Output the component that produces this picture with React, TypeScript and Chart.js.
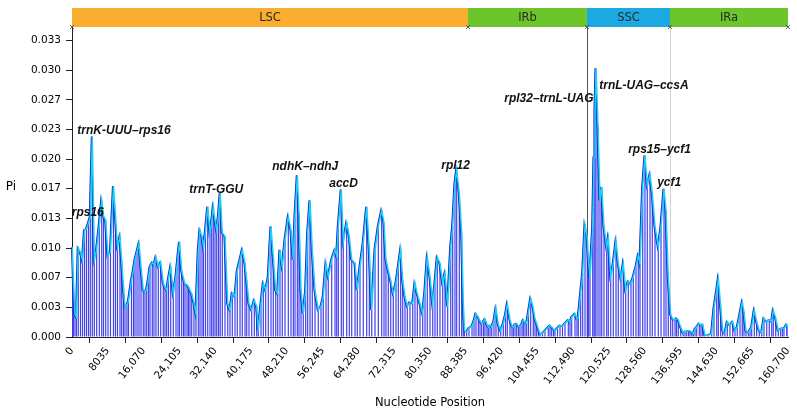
import { useEffect, useRef } from "react";
import { Chart, registerables } from "chart.js";

Chart.register(...registerables);

// Sliding-window nucleotide diversity: [window midpoint (bp), Pi]
type PiWindow = [number, number];

const lscWindows: PiWindow[] = [
  [70, 0.0100], [340, 0.0060], [670, 0.0025], [1010, 0.0022], [1410, 0.0099],
  [1910, 0.0094], [2360, 0.0085], [2810, 0.0119], [3250, 0.0120], [3700, 0.0127],
  [4110, 0.0134], [4560, 0.0223], [5010, 0.0085], [5540, 0.0098], [6130, 0.0125],
  [6670, 0.0152], [7070, 0.0135], [7560, 0.0130], [8080, 0.0090], [8640, 0.0095],
  [9310, 0.0168], [9760, 0.0135], [10210, 0.0100], [10770, 0.0112], [11150, 0.0085],
  [11560, 0.0055], [11900, 0.0033], [12340, 0.0036], [12680, 0.0040], [13350, 0.0063],
  [13800, 0.0075], [14140, 0.0086], [14590, 0.0095], [15040, 0.0104], [15490, 0.0078],
  [16000, 0.0052], [16380, 0.0050], [16770, 0.0054], [17170, 0.0065], [17510, 0.0078],
  [18020, 0.0083], [18400, 0.0080], [18850, 0.0089], [19370, 0.0078], [19910, 0.0083],
  [20490, 0.0060], [20870, 0.0055], [21250, 0.0052], [21660, 0.0065], [22150, 0.0078],
  [22740, 0.0048], [23340, 0.0067], [23790, 0.0090], [24130, 0.0106], [24620, 0.0074],
  [25030, 0.0065], [25360, 0.0059], [25810, 0.0058], [26150, 0.0056], [26480, 0.0052],
  [26870, 0.0048], [27380, 0.0038], [27830, 0.0026], [28350, 0.0097], [28730, 0.0119],
  [29180, 0.0112], [29510, 0.0100], [29960, 0.0118], [30460, 0.0145], [30970, 0.0116],
  [31350, 0.0128], [31710, 0.0145], [32100, 0.0130], [32480, 0.0119], [32880, 0.0135],
  [33260, 0.0160], [33730, 0.0116], [34340, 0.0112], [34950, 0.0037], [35460, 0.0030],
  [35980, 0.0049], [36580, 0.0045], [37100, 0.0074], [37710, 0.0086], [38220, 0.0097],
  [38830, 0.0082], [39210, 0.0063], [39730, 0.0037], [40330, 0.0030], [40920, 0.0041],
  [41450, 0.0034], [41810, 0.0007], [42420, 0.0037], [42940, 0.0060], [43470, 0.0052],
  [44060, 0.0067], [44660, 0.0123], [45180, 0.0089], [45720, 0.0052], [46170, 0.0048],
  [46680, 0.0097], [47200, 0.0078], [47810, 0.0108], [48550, 0.0134], [49150, 0.0119],
  [49670, 0.0086], [50050, 0.0134], [50570, 0.0180], [50950, 0.0138], [51400, 0.0052],
  [51910, 0.0026], [52450, 0.0052], [52900, 0.0116], [53420, 0.0152], [53930, 0.0097],
  [54540, 0.0052], [55280, 0.0030], [55890, 0.0034], [56400, 0.0045], [57010, 0.0082],
  [57520, 0.0067], [58290, 0.0086], [59030, 0.0097], [59410, 0.0090], [59770, 0.0123],
  [60440, 0.0164], [60890, 0.0105], [61650, 0.0127], [62240, 0.0112], [62780, 0.0086],
  [63520, 0.0082], [64030, 0.0052], [64640, 0.0078], [65380, 0.0105], [66140, 0.0145],
  [66730, 0.0097], [67270, 0.0030], [68010, 0.0097], [68750, 0.0123], [69510, 0.0141],
  [70030, 0.0127], [70470, 0.0086], [70990, 0.0074], [71530, 0.0063], [72110, 0.0048],
  [72720, 0.0060], [73240, 0.0078], [73770, 0.0097], [74220, 0.0063], [74740, 0.0045],
  [75260, 0.0034], [75860, 0.0039], [76470, 0.0037], [76980, 0.0060], [77500, 0.0048],
  [78110, 0.0037], [78710, 0.0026], [79230, 0.0052], [79740, 0.0089], [80350, 0.0067],
  [80960, 0.0037], [81470, 0.0060], [81990, 0.0089], [82590, 0.0082], [83200, 0.0060],
  [83720, 0.0071], [84320, 0.0034], [85000, 0.0100], [85440, 0.0123], [85960, 0.0171],
  [86340, 0.0186], [86930, 0.0160], [87460, 0.0116], [87820, 0.0040], [88090, 0.0007],
  [88590, 0.0006],
];

const irbWindows: PiWindow[] = [
  [89100, 0.0010], [89780, 0.0012], [90230, 0.0018], [90670, 0.0026], [91190, 0.0022],
  [91570, 0.0018], [91950, 0.0015], [92360, 0.0017], [92690, 0.0020], [93140, 0.0014],
  [93440, 0.0011], [93820, 0.0013], [94200, 0.0011], [94710, 0.0018], [95160, 0.0032],
  [95680, 0.0014], [96220, 0.0007], [96800, 0.0015], [97300, 0.0025], [97700, 0.0037],
  [98310, 0.0019], [98750, 0.0012], [99050, 0.0011], [99430, 0.0014], [99810, 0.0015],
  [100210, 0.0012], [100550, 0.0011], [101000, 0.0015], [101290, 0.0019], [101670, 0.0016],
  [102050, 0.0015], [102460, 0.0028], [102950, 0.0043], [103530, 0.0032], [103920, 0.0020],
  [104300, 0.0015], [104700, 0.0008], [105040, 0.0004], [105600, 0.0004], [106160, 0.0007],
  [106900, 0.0011], [107280, 0.0013], [107660, 0.0011], [108070, 0.0009], [108400, 0.0007],
  [108970, 0.0010], [109530, 0.0013], [110090, 0.0012], [110650, 0.0015], [111390, 0.0019],
  [111770, 0.0016], [112150, 0.0022], [112890, 0.0026], [113340, 0.0020], [113630, 0.0022],
  [114170, 0.0049], [114620, 0.0071], [115140, 0.0125],
];

const sscWindows: PiWindow[] = [
  [115650, 0.0110], [115920, 0.0085], [116260, 0.0067], [116870, 0.0123], [117160, 0.0200],
  [117380, 0.0253], [117610, 0.0299], [118060, 0.0235], [118500, 0.0152], [118890, 0.0167],
  [119400, 0.0123], [120010, 0.0100], [120370, 0.0111], [120910, 0.0067], [121490, 0.0082],
  [122100, 0.0107], [122610, 0.0082], [123220, 0.0065], [123730, 0.0082], [124270, 0.0052],
  [124860, 0.0062], [125460, 0.0059], [125980, 0.0067], [126580, 0.0078], [127100, 0.0091],
  [127480, 0.0082], [128090, 0.0167], [128600, 0.0202], [129120, 0.0168], [129730, 0.0181],
  [130240, 0.0160], [130850, 0.0123], [131590, 0.0100], [132200, 0.0123], [132870, 0.0165],
  [133320, 0.0141], [133830, 0.0067],
];

const iraWindows: PiWindow[] = [
  [134370, 0.0025], [134820, 0.0020], [135340, 0.0019], [135670, 0.0021], [136080, 0.0019],
  [136620, 0.0011], [137200, 0.0004], [137580, 0.0006], [137960, 0.0006], [138370, 0.0007],
  [138700, 0.0007], [139090, 0.0005], [139450, 0.0004], [139830, 0.0009], [140210, 0.0011],
  [140790, 0.0015], [141170, 0.0013], [141550, 0.0014], [142070, 0.0002], [142810, 0.0002],
  [143570, 0.0004], [144090, 0.0032], [144700, 0.0052], [145060, 0.0065], [145590, 0.0034],
  [146040, 0.0007], [146560, 0.0004], [147080, 0.0017], [147680, 0.0013], [148290, 0.0017],
  [148800, 0.0007], [149320, 0.0011], [149930, 0.0026], [150440, 0.0039], [150820, 0.0028],
  [151270, 0.0007], [151790, 0.0005], [152170, 0.0008], [152550, 0.0011], [153140, 0.0030],
  [153670, 0.0017], [154260, 0.0007], [154800, 0.0005], [155310, 0.0021], [155920, 0.0017],
  [156500, 0.0019], [157040, 0.0017], [157400, 0.0030], [157940, 0.0021], [158520, 0.0007],
  [159060, 0.0009], [159460, 0.0010], [159800, 0.0009], [160410, 0.0014], [160700, 0.0012],
];

// Quadripartite structure of the plastome
const regionNames = ["LSC", "IRb", "SSC", "IRa"];
const regionStarts = [0, 88880, 115590, 134220];
const regionEnds = [88880, 115590, 134220, 160700];
const regionColors = ["#FBAE2D", "#6CC62B", "#1BA9E3", "#6CC62B"];

const xTickValues = [
  0, 8035, 16070, 24105, 32140, 40175, 48210, 56245, 64280, 72315, 80350,
  88385, 96420, 104455, 112490, 120525, 128560, 136595, 144630, 152665, 160700,
];
const xTickLabels = [
  "0", "8035", "16,070", "24,105", "32,140", "40,175", "48,210", "56,245", "64,280",
  "72,315", "80,350", "88,385", "96,420", "104,455", "112,490", "120,525", "128,560",
  "136,595", "144,630", "152,665", "160,700",
];
const yTickValues = [0, 0.0033, 0.0066, 0.0099, 0.0132, 0.0165, 0.0198, 0.0231, 0.0264, 0.0297, 0.033];
const yTickLabels = ["0.000", "0.003", "0.007", "0.010", "0.013", "0.017", "0.020", "0.023", "0.027", "0.030", "0.033"];

// Highly variable loci, anchored at [start bp, Pi level]
const geneNames = [
  "rps16", "trnK-UUU–rps16", "trnT-GGU", "ndhK–ndhJ", "accD", "rpl12",
  "rpl32–trnL-UAG", "trnL-UAG–ccsA", "rps15–ycf1", "ycf1",
];
const geneStarts = [-60, 1190, 26320, 44950, 57740, 82880, 97010, 118330, 124830, 131340];
const geneLevels = [0.01383, 0.02294, 0.01636, 0.01896, 0.0171, 0.01909, 0.02647, 0.02795, 0.0209, 0.01717];

const AXIS_FONT = "'DejaVu Sans', sans-serif";

const allWindows = [...lscWindows, ...irbWindows, ...sscWindows, ...iraWindows];

const decorations = {
  id: "decorations",
  beforeDatasetsDraw(chart: any) {
    const { ctx, chartArea, scales } = chart;
    const x = scales.x;
    ctx.save();
    ctx.lineWidth = 1;
    const seps: [number, string][] = [
      [regionStarts[2], "#555555"],
      [regionStarts[3], "#d4d4d4"],
    ];
    for (const [pos, color] of seps) {
      const px = Math.round(x.getPixelForValue(pos)) + 0.5;
      ctx.strokeStyle = color;
      ctx.beginPath();
      ctx.moveTo(px, chartArea.top);
      ctx.lineTo(px, chartArea.bottom);
      ctx.stroke();
    }
    ctx.restore();
  },
  // the dark trace sits a hair to the left of the cyan one
  beforeDatasetDraw(chart: any, args: any) {
    if (args.index === 0) {
      chart.ctx.save();
      chart.ctx.translate(-0.8, 0);
    }
  },
  afterDatasetDraw(chart: any, args: any) {
    if (args.index === 0) chart.ctx.restore();
  },
  afterDatasetsDraw(chart: any) {
    const { ctx, scales } = chart;
    ctx.save();
    ctx.fillStyle = "#111";
    ctx.font = "italic bold 12px 'Liberation Sans', Arial, sans-serif";
    ctx.textAlign = "left";
    ctx.textBaseline = "middle";
    geneNames.forEach((name, i) => {
      ctx.fillText(name, scales.x.getPixelForValue(geneStarts[i]), scales.y.getPixelForValue(geneLevels[i]));
    });
    ctx.restore();
  },
  afterDraw(chart: any) {
    const { ctx, chartArea, scales } = chart;
    const x = scales.x;
    const barTop = 8;
    const barBottom = chartArea.top;
    ctx.save();
    regionNames.forEach((name, i) => {
      const x0 = x.getPixelForValue(regionStarts[i]);
      const x1 = x.getPixelForValue(regionEnds[i]);
      ctx.fillStyle = regionColors[i];
      ctx.fillRect(x0, barTop, x1 - x0, barBottom - barTop);
      ctx.fillStyle = "#2a2a2a";
      ctx.font = `11.5px ${AXIS_FONT}`;
      ctx.textAlign = "center";
      ctx.textBaseline = "middle";
      ctx.fillText(name, (x0 + x1) / 2, (barTop + barBottom) / 2 + 0.5);
    });
    // boundary marks under the region bar
    ctx.strokeStyle = "#444";
    ctx.lineWidth = 0.8;
    const bounds = [...regionStarts, regionEnds[regionEnds.length - 1]];
    for (const b of bounds) {
      const px = x.getPixelForValue(b);
      const py = barBottom;
      ctx.beginPath();
      ctx.moveTo(px - 2, py - 2);
      ctx.lineTo(px + 2, py + 2);
      ctx.moveTo(px - 2, py + 2);
      ctx.lineTo(px + 2, py - 2);
      ctx.stroke();
    }
    // y-axis title, drawn upright
    ctx.fillStyle = "#000";
    ctx.font = `12px ${AXIS_FONT}`;
    ctx.textAlign = "center";
    ctx.textBaseline = "alphabetic";
    ctx.fillText("Pi", 11, 189.5);
    ctx.restore();
  },
};

export default function App() {
  const canvasRef = useRef<HTMLCanvasElement | null>(null);

  useEffect(() => {
    const canvas = canvasRef.current;
    if (!canvas) return;
    const points = allWindows.map(([pos, pi]) => ({ x: pos, y: pi }));

    const chart = new Chart(canvas, {
      type: "bar",
      data: {
        datasets: [
          {
            type: "line",
            data: points.map((p) => ({ ...p })),
            borderColor: "#1a1ac6",
            borderWidth: 1.5,
            pointRadius: 0,
            tension: 0,
            order: 2,
          } as any,
          {
            type: "line",
            data: points.map((p) => ({ ...p })),
            borderColor: "#17d3f5",
            borderWidth: 1.5,
            pointRadius: 0,
            tension: 0,
            order: 1,
          } as any,
          {
            type: "bar",
            data: points.map((p) => ({ ...p })),
            backgroundColor: "rgb(66,66,236)",
            barThickness: 1.2,
            inflateAmount: 0,
            grouped: false,
            order: 3,
          } as any,
        ],
      },
      options: {
        animation: false,
        responsive: false,
        events: [],
        layout: { padding: { top: 27, right: 9, left: 0, bottom: 0 } },
        plugins: { legend: { display: false }, tooltip: { enabled: false } },
        scales: {
          x: {
            type: "linear",
            min: 0,
            max: 160700,
            offset: false,
            afterBuildTicks: (s: any) => {
              s.ticks = xTickValues.map((value) => ({ value }));
            },
            afterFit: (s: any) => {
              s.height = 76;
              s.paddingLeft = 0;
              s.paddingRight = 0;
            },
            grid: { drawOnChartArea: false, drawTicks: true, tickLength: 6, color: "#222" },
            border: { display: true, color: "#222" },
            ticks: {
              autoSkip: false,
              minRotation: 52,
              maxRotation: 52,
              padding: 2,
              color: "#000",
              font: { family: AXIS_FONT, size: 10.5 },
              callback: (_v: any, i: number) => xTickLabels[i],
            },
            title: {
              display: true,
              text: "Nucleotide Position",
              color: "#000",
              font: { family: AXIS_FONT, size: 11.5 },
              padding: { top: 0, bottom: 3 },
            },
          },
          y: {
            type: "linear",
            min: 0,
            max: 0.0345,
            afterBuildTicks: (s: any) => {
              s.ticks = yTickValues.map((value) => ({ value }));
            },
            afterFit: (s: any) => {
              s.width = 72;
              s.paddingTop = 0;
              s.paddingBottom = 0;
            },
            grid: { drawOnChartArea: false, drawTicks: true, tickLength: 6, color: "#222" },
            border: { display: true, color: "#222" },
            ticks: {
              padding: 5,
              color: "#000",
              font: { family: AXIS_FONT, size: 10.5 },
              callback: (_v: any, i: number) => yTickLabels[i],
            },
          },
        },
      } as any,
      plugins: [decorations],
    });

    return () => chart.destroy();
  }, []);

  return (
    <div style={{ position: "fixed", left: 0, top: 0, width: 797, height: 413, background: "#fff" }}>
      <canvas ref={canvasRef} width={797} height={413} style={{ display: "block" }} />
    </div>
  );
}
